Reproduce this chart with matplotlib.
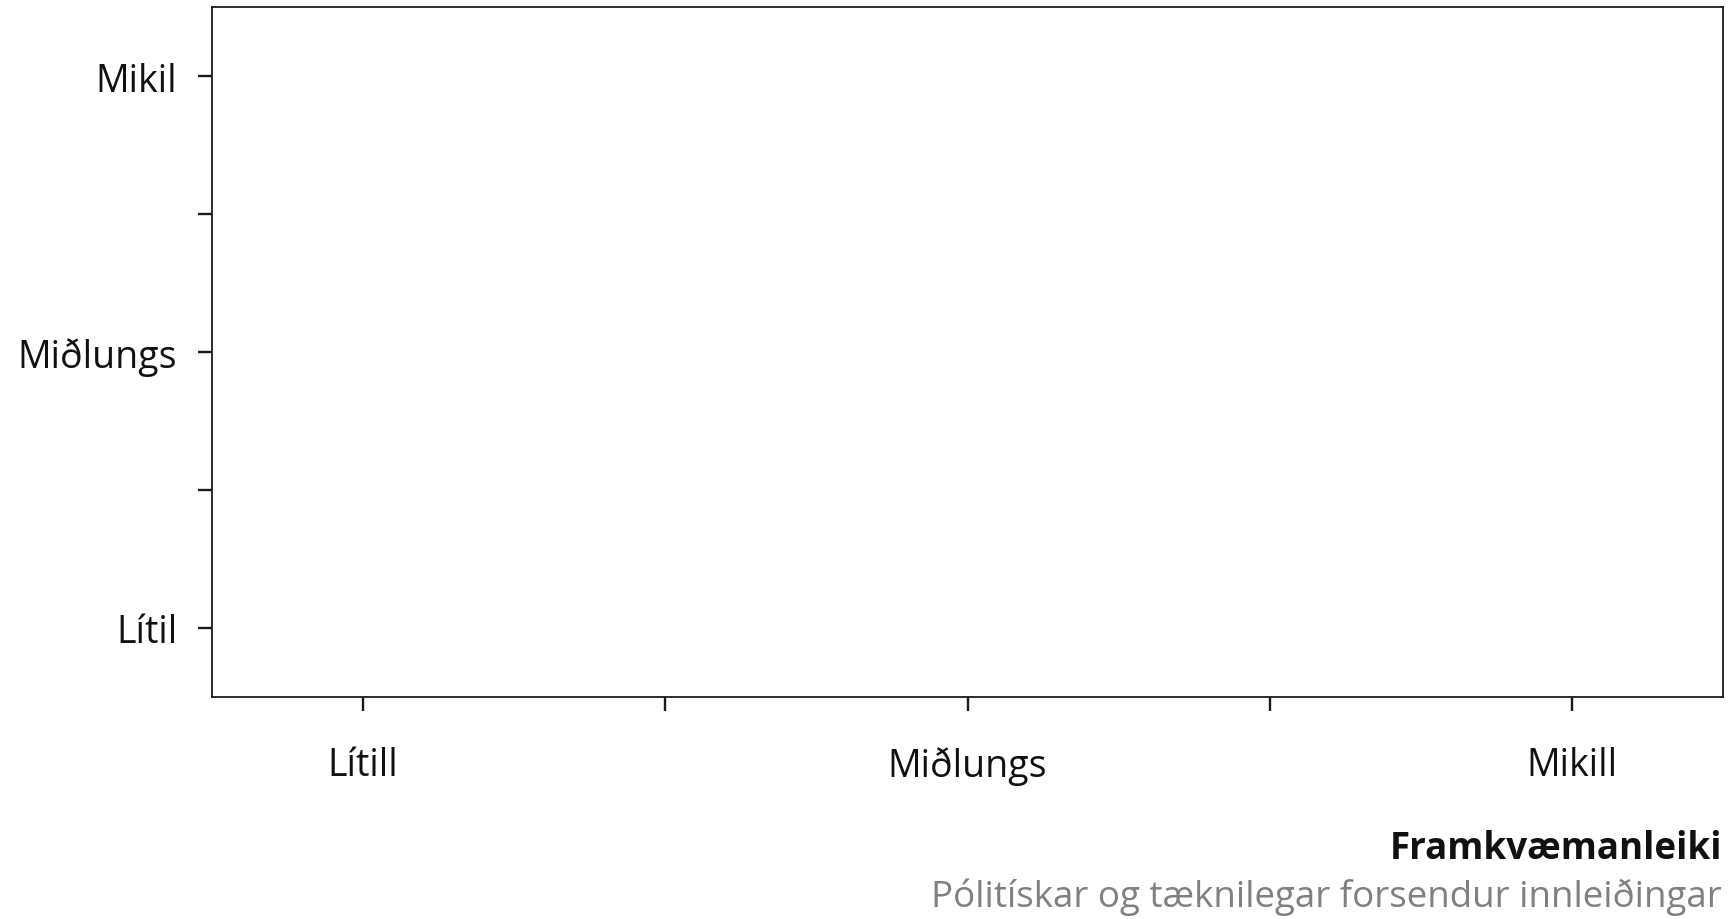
import matplotlib
matplotlib.use("Agg")
import matplotlib.pyplot as plt

plt.rcParams['font.family'] = ['Open Sans', 'DejaVu Sans']

x_categories = ["Lítill", "Miðlungs", "Mikill"]
y_categories = ["Lítil", "Miðlungs", "Mikil"]
x_title = "Framkvæmanleiki"
x_subtitle = "Pólitískar og tæknilegar forsendur innleiðingar"

W, H = 1733, 920
fig = plt.figure(figsize=(W / 100, H / 100), dpi=100)
ax = fig.add_axes([212 / W, 1 - 698 / H, (1723 - 212) / W, (698 - 8) / H])

ax.set_xlim(-0.25, len(x_categories) - 1 + 0.25)
ax.set_ylim(-0.25, len(y_categories) - 1 + 0.25)

ax.set_xticks(range(len(x_categories)))
ax.set_xticklabels(x_categories)
ax.set_yticks(range(len(y_categories)))
ax.set_yticklabels(y_categories)
ax.set_xticks([i + 0.5 for i in range(len(x_categories) - 1)], minor=True)
ax.set_yticks([i + 0.5 for i in range(len(y_categories) - 1)], minor=True)

for s in ax.spines.values():
    s.set_linewidth(1.3)
    s.set_color("#1a1a1a")

ax.tick_params(axis="both", which="both", length=10, width=1.7, color="#1a1a1a",
               labelsize=27, labelcolor="#111111")
ax.tick_params(axis="x", which="major", pad=25.5)
ax.tick_params(axis="y", which="major", pad=15)

fig.text(1722 / W, 1 - 849 / H, x_title, ha="right", va="center",
         fontsize=26.5, fontweight="bold", color="#111111")
fig.text(1722 / W, 1 - 897 / H, x_subtitle, ha="right", va="center",
         fontsize=26.5, color="#808080")

fig.savefig("out.png", dpi=100)
